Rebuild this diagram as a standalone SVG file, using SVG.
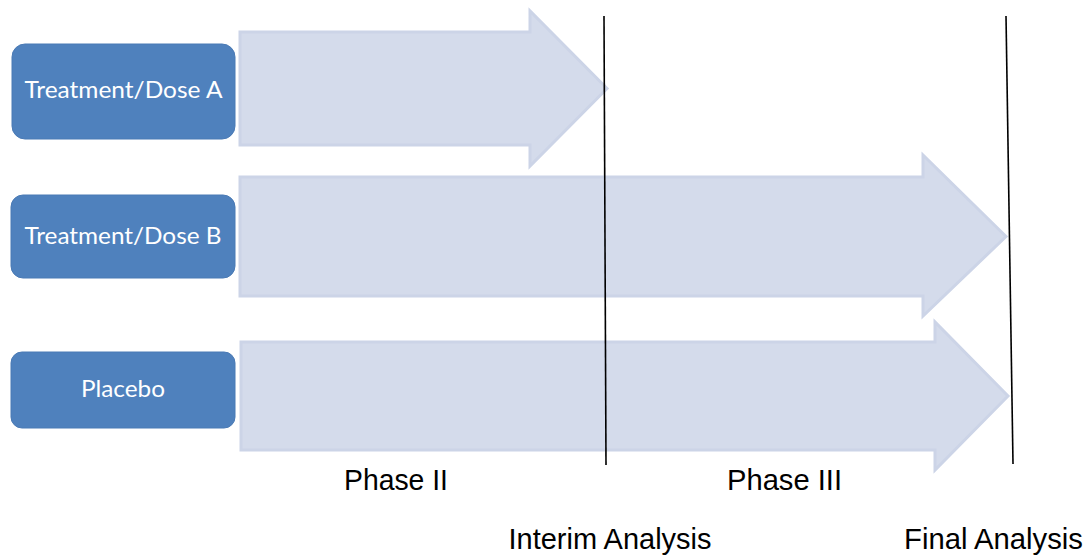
<svg xmlns="http://www.w3.org/2000/svg" width="1087" height="556" viewBox="0 0 1087 556">
  <style>
    .arm { fill: #4F81BD; stroke: #4A7AB5; stroke-width: 1; }
    .arm-label { font-family: Lato, "Open Sans", "Liberation Sans", sans-serif; font-size: 23px; fill: #FFFFFF; text-anchor: middle; }
    .band { fill: #D4DBEB; stroke: #CCD4E7; stroke-width: 3; stroke-linejoin: miter; }
    .milestone { stroke: #000000; stroke-width: 1.6; fill: none; }
    .caption { font-family: "Liberation Sans", Arial, sans-serif; font-size: 30px; fill: #000000; text-anchor: middle; }
  </style>

  <!-- study-period arrows -->
  <g id="connectors">
    <polygon id="arrow-a" class="band" points="240,32 530,32 530,11 607,88.5 530,166 530,145 240,145"/>
    <polygon id="arrow-b" class="band" points="240,177 923,177 923,155 1006,236.5 923,316 923,296 240,296"/>
    <polygon id="arrow-c" class="band" points="241,342 935,342 935,322 1008,396 935,470 935,450 241,450"/>
    <line id="interim-line" class="milestone" x1="604" y1="16" x2="606" y2="465"/>
    <line id="final-line" class="milestone" x1="1006" y1="16" x2="1013" y2="464"/>
  </g>

  <!-- treatment arms -->
  <g id="node-dose-a">
    <rect class="arm" x="12" y="44" width="223" height="95" rx="13" ry="13"/>
    <text class="arm-label" x="123.5" y="98" textLength="198" lengthAdjust="spacingAndGlyphs">Treatment/Dose A</text>
  </g>
  <g id="node-dose-b">
    <rect class="arm" x="11" y="195" width="224" height="83" rx="12" ry="12"/>
    <text class="arm-label" x="123" y="244" textLength="197" lengthAdjust="spacingAndGlyphs">Treatment/Dose B</text>
  </g>
  <g id="node-placebo">
    <rect class="arm" x="11" y="352" width="224" height="76" rx="11" ry="11"/>
    <text class="arm-label" x="123" y="397" textLength="84" lengthAdjust="spacingAndGlyphs">Placebo</text>
  </g>

  <!-- phase and analysis captions -->
  <g id="captions">
    <text class="caption" x="396" y="490" textLength="104" lengthAdjust="spacingAndGlyphs">Phase II</text>
    <text class="caption" x="784.5" y="490" textLength="115" lengthAdjust="spacingAndGlyphs">Phase III</text>
    <text class="caption" x="610" y="549" textLength="203" lengthAdjust="spacingAndGlyphs">Interim Analysis</text>
    <text class="caption" x="993.5" y="549" textLength="179" lengthAdjust="spacingAndGlyphs">Final Analysis</text>
  </g>
</svg>
